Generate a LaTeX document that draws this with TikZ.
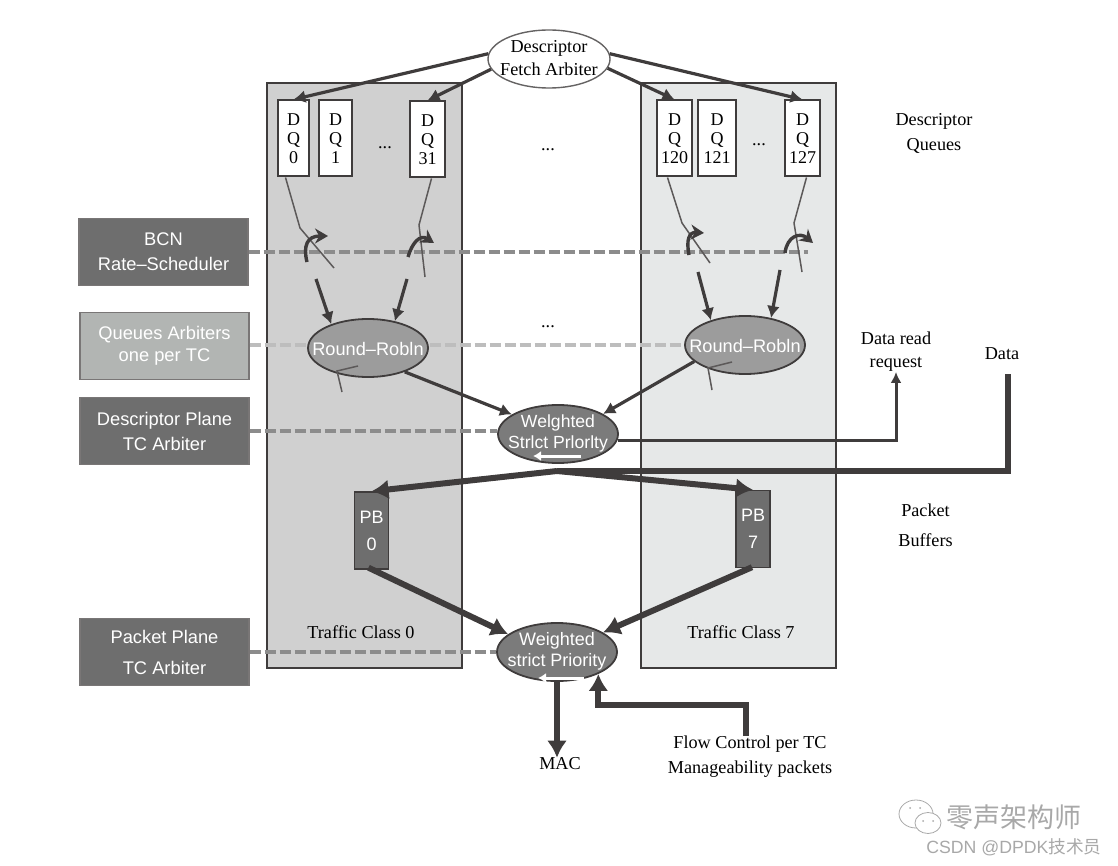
\documentclass[tikz,border=0pt]{standalone}
\usepackage{fontspec}
\setmainfont{Liberation Serif}
\setsansfont{Liberation Sans}
\newfontfamily\cjkfont{Noto Sans CJK SC}
\usetikzlibrary{arrows.meta,shapes.geometric,calc}
\definecolor{ink}{HTML}{3F3C3C}
\definecolor{panelL}{HTML}{D0D0D0}
\definecolor{panelR}{HTML}{E6E8E8}
\definecolor{dashA}{HTML}{8C8C8C}
\definecolor{dashB}{HTML}{BDBDBD}
\definecolor{boxdark}{HTML}{6E6E6E}
\definecolor{boxlight}{HTML}{B2B5B3}
\definecolor{ovalmid}{HTML}{9C9C9C}
\definecolor{ovaldark}{HTML}{7B7B7B}
\definecolor{wm}{HTML}{A8A8A8}
\newcommand{\ovaltext}[2][0pt]{\raisebox{\dimexpr-0.25em+#1\relax}[0pt][0pt]{\makebox[0pt]{\begin{tabular}{@{}c@{}}#2\end{tabular}}}}
\tikzset{
  x=1pt,y=-1pt,
  panel/.style={draw=ink,line width=1.6pt,anchor=center,inner sep=0pt},
  serif/.style={font=\fontsize{18.2}{25}\selectfont,align=center,text=black,inner sep=0pt},
  dqbox/.style={draw=ink,line width=2pt,fill=white,inner sep=0pt,minimum height=76pt,align=center,font=\fontsize{18}{19}\selectfont},
  sidebox/.style={draw=ink!70,line width=1.4pt,inner sep=0pt,minimum width=169pt,minimum height=67pt,align=center,text=white,font=\sffamily\fontsize{18.3}{25}\selectfont},
  oval/.style={ellipse,draw=ink,line width=1.8pt,inner sep=0pt,minimum width=120pt,minimum height=58pt,text=white,font=\sffamily\fontsize{18.2}{23}\selectfont},
  pbbox/.style={draw=ink,line width=1.4pt,fill=boxdark,inner sep=0pt,minimum width=34pt,minimum height=77pt,align=center,text=white,font=\sffamily\fontsize{18}{27}\selectfont},
  dashline/.style={line width=3.4pt,dash pattern=on 11pt off 4pt},
  thinline/.style={draw=ink!85,line width=1.5pt},
  turn/.style={draw=ink,line width=3.4pt,-{Stealth[length=13pt,width=15pt]}},
  midarrow/.style={draw=ink,line width=3.2pt,-{Latex[length=12pt,width=13pt]}},
  bigarrow/.style={draw=ink,line width=6pt,-{Latex[length=17pt,width=20pt]}},
  whitearrow/.style={draw=white,line width=3pt,-{Latex[length=8pt,width=10pt]}},
}
\begin{document}
\begin{tikzpicture}
\useasboundingbox (0,0) rectangle (1118,866);
% panels
\node[panel,fill=panelL,minimum width=195pt,minimum height=585pt] (panelA) at (364.5,375.5) {};
\node[panel,fill=panelR,minimum width=195pt,minimum height=585pt] (panelB) at (738.5,375.5) {};
% side boxes
\node[sidebox,fill=boxdark] (bcn) at (163.5,252) {BCN\\Rate–Scheduler};
\node[sidebox,fill=boxlight] (qa) at (164.5,346) {Queues Arbiters\\[-3pt]one per TC};
\node[sidebox,fill=boxdark] (dpa) at (164.5,431) {Descriptor Plane\\TC Arbiter};
\node[sidebox,fill=boxdark] (ppa) at (164.5,652) {Packet Plane\\[6pt]TC Arbiter};
% dashed-line ends
\coordinate (bcnEnd) at (808,252);
\coordinate (qaEnd) at (800,345);
% dashed lines
\draw[dashline,dashA] (bcn.east |- bcnEnd) -- (bcnEnd);
\draw[dashline,dashB] (qa.east |- qaEnd) -- (qaEnd);
% ovals
\node[oval,fill=white,text=black,draw=ink!80,line width=1.4pt,minimum width=122pt,font=\fontsize{18.2}{23}\selectfont] (fetch) at (549,59) {\ovaltext{Descriptor\\Fetch Arbiter}};
\node[oval,fill=ovalmid] (rrA) at (368,348) {\ovaltext[-2.5pt]{Round–Robln}};
\node[oval,fill=ovalmid] (rrB) at (745,345) {\ovaltext[-2.5pt]{Round–Robln}};
\node[oval,fill=ovaldark,font=\sffamily\fontsize{17.6}{21}\selectfont] (wsp) at (558,434) {\ovaltext{Welghted\\Strlct Prlorlty}};
\node[oval,fill=ovaldark,font=\sffamily\fontsize{18}{21}\selectfont] (wsq) at (557,652) {\ovaltext{Weighted\\strict Priority}};
\draw[dashline,dashA] (dpa.east) -- (dpa.east -| wsp.west);
\draw[dashline,dashA] (ppa.east) -- (wsq.west);
% DQ boxes
\node[dqbox,minimum width=31pt] (dq0) at (293.5,138.5) {D\\Q\\0};
\node[dqbox,minimum width=33pt] (dq1) at (335.5,138.5) {D\\Q\\1};
\node[dqbox,minimum width=35pt] (dq31) at (427.5,139.5) {D\\Q\\31};
\node[dqbox,minimum width=35pt] (dq120) at (674.5,138.5) {D\\Q\\120};
\node[dqbox,minimum width=38pt] (dq121) at (717,138.5) {D\\Q\\121};
\node[dqbox,minimum width=35pt] (dq127) at (802.5,138.5) {D\\Q\\127};
% fetch arrows
\draw[midarrow] (fetch.175) -- (dq0.north);
\draw[midarrow] (fetch.190) -- (dq31.north);
\draw[midarrow] (fetch.-9) -- (dq120.north);
\draw[midarrow] (fetch.5) -- (dq127.north);
% thin lines and shaper turn arrows
\coordinate (a1) at (300,228); \coordinate (a2) at (334,268);
\coordinate (b1) at (419,225); \coordinate (b2) at (425,277);
\coordinate (c1) at (682,223); \coordinate (c2) at (710,263);
\coordinate (d1) at (794,223); \coordinate (d2) at (802,272);
\draw[thinline] ($(dq0.south)+(-8,0)$) -- (a1) -- (a2);
\draw[thinline] ($(dq31.south)+(4,0)$) -- (b1) -- (b2);
\draw[thinline] ($(dq120.south)+(-7,0)$) -- (c1) -- (c2);
\draw[thinline] ($(dq127.south)+(4,0)$) -- (d1) -- (d2);
\coordinate (t1s) at (307,262); \coordinate (t1e) at (328,236);
\coordinate (t2s) at (408,257); \coordinate (t2e) at (434,243);
\coordinate (t3s) at (689,255); \coordinate (t3e) at (704,233);
\coordinate (t4s) at (785,253); \coordinate (t4e) at (813,243);
\draw[turn] (t1s) .. controls (303,246) and (307,236) .. (t1e);
\draw[turn] (t2s) .. controls (412,243) and (420,234) .. (t2e);
\draw[turn] (t3s) .. controls (686,240) and (689,232) .. (t3e);
\draw[turn] (t4s) .. controls (787,236) and (800,232) .. (t4e);
% arrows into round-robin
\coordinate (r1) at (316,279); \coordinate (r2) at (407,279);
\coordinate (r3) at (698,272); \coordinate (r4) at (780,270);
\draw[midarrow] (r1) -- (rrA.147);
\draw[midarrow] (r2) -- (rrA.45);
\draw[midarrow] (r3) -- (rrB.144);
\draw[midarrow] (r4) -- (rrB.46);
% small marks under round-robin
\coordinate (m1) at (358,366); \coordinate (m2) at (337,371); \coordinate (m3) at (342,392);
\coordinate (n1) at (732,362); \coordinate (n2) at (708,368); \coordinate (n3) at (712,390);
\draw[thinline] (m1) -- (m2) -- (m3);
\draw[thinline] (n1) -- (n2) -- (n3);
% round-robin to WSP
\draw[midarrow] (rrA.-33) -- (wsp.157);
\draw[midarrow] (rrB.198) -- (wsp.24);
% data read request
\node[serif,font=\fontsize{18.2}{23}\selectfont] (drr) at (896,352) {Data read\\request};
\draw[draw=ink,line width=3pt,-{Latex[length=11pt,width=11pt]}] (wsp.-6) -| (drr.south);
% data
\node[serif] (data) at (1002,354) {Data};
\coordinate (dj) at (557,471);
\coordinate (dc) at (1008,471);
\draw[draw=ink,line width=6pt,line join=miter] ($(data.south)+(6,14)$) -- (dc) -- (dj);
% packet buffers
\node[pbbox] (pb0) at (371.5,530.5) {PB\\0};
\node[pbbox] (pb7) at (753,529) {PB\\7};
\draw[bigarrow] (dj) -- (pb0.north);
\draw[bigarrow] (dj) -- (pb7.north);
\draw[bigarrow] ($(pb0.south)+(-3,-2)$) -- (wsq.160);
\draw[bigarrow] ($(pb7.south)+(-1,-1)$) -- (wsq.23);
% MAC and flow control
\node[serif] (mac) at (560,764) {MAC};
\node[serif] (flow) at (750,757) {Flow Control per TC\\Manageability packets};
\coordinate (macTip) at (wsq.south |- mac.north);
\draw[bigarrow] (wsq.south) -- (macTip);
\coordinate (fb) at (746,705);
\draw[draw=ink,line width=6pt,-{Latex[length=17pt,width=20pt]}] (fb |- flow.north) -- (fb) -| (wsq.-28);
% white arrows on ovals
\coordinate (w1) at (581,456); \coordinate (w2) at (533,456);
\coordinate (w3) at (584,678); \coordinate (w4) at (538,678);
\draw[whitearrow] (w1) -- (w2);
\draw[whitearrow] (w3) -- (w4);
% ellipsis
\node[serif] (dots1) at (385,148) {...};
\node[serif] (dots2) at (548,150) {...};
\node[serif] (dots3) at (759,145) {...};
\node[serif] (dots4) at (548,327) {...};
% labels
\node[serif] (dq) at (934,133) {Descriptor\\Queues};
\node[serif,font=\fontsize{18.2}{30}\selectfont] (pbl) at (925.5,525) {Packet\\Buffers};
\node[serif] (tc0) at (361,632) {Traffic Class 0};
\node[serif] (tc7) at (741,632) {Traffic Class 7};
% watermark
\draw[wm,line width=.8pt,fill=white] (916,814) ellipse (17pt and 14pt);
\draw[wm,line width=.8pt,fill=white] (928,823) ellipse (13pt and 10.5pt);
\fill[wm] (910,808) circle (1pt) (920,808) circle (1pt) (923,821) circle (1pt) (933,821) circle (1pt);
\node[text=wm,inner sep=0pt,font=\cjkfont\fontsize{27}{29}\selectfont] (wmA) at (1014,817) {零声架构师};
\node[text=wm,inner sep=0pt,font=\sffamily\fontsize{17.7}{20}\selectfont] (wmB) at (1014,847) {CSDN @DPDK{\cjkfont 技术员}};
\end{tikzpicture}
\end{document}
